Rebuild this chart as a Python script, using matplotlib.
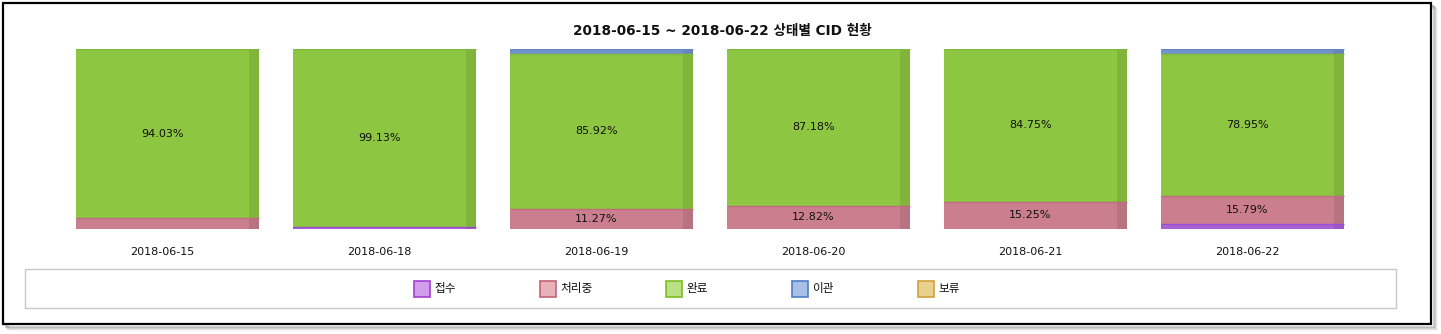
import matplotlib
matplotlib.use("Agg")
import matplotlib.pyplot as plt
from matplotlib.patches import Rectangle
import numpy as np

plt.rcParams['font.family'] = ['DejaVu Sans', 'Noto Sans CJK KR']

# Daily CID share by status (percent of that day's total)
dates = ["2018-06-15", "2018-06-18", "2018-06-19", "2018-06-20", "2018-06-21", "2018-06-22"]
status_names = ["접수", "처리중", "완료", "이관", "보류"]
received = [0.0, 0.87, 0.0, 0.0, 0.0, 2.63]
in_progress = [5.97, 0.0, 11.27, 12.82, 15.25, 15.79]
completed = [94.03, 99.13, 85.92, 87.18, 84.75, 78.95]
transferred = [0.0, 0.0, 2.81, 0.0, 0.0, 2.63]
on_hold = [0.0, 0.0, 0.0, 0.0, 0.0, 0.0]

series = [received, in_progress, completed, transferred, on_hold]
bar_colors = ["#A862D8", "#CB7F8E", "#8DC641", "#7394C9", "#E2B64E"]
edge_colors = ["#9A50CC", "#C06B7E", "#7FB83A", "#6485BE", "#D0A23A"]
legend_face = ["#D29DEA", "#E8B0B9", "#B9E083", "#A8BFE6", "#E9D08E"]
legend_edge = ["#A43FD3", "#C46275", "#7DBE22", "#4F7FC6", "#D0A23A"]

W, H = 1441, 334
fig = plt.figure(figsize=(W / 100, H / 100), dpi=100)

# decoration layer in pixel coordinates
deco = fig.add_axes([0, 0, 1, 1], zorder=0)
deco.set_xlim(0, W)
deco.set_ylim(H, 0)
deco.axis("off")

# drop shadow of the outer panel
for k, a in enumerate([0.30, 0.20, 0.12, 0.06]):
    off = k + 1
    deco.add_patch(Rectangle((3 + off + 1.5, 3 + off + 1.5), 1428, 321,
                             facecolor="none", edgecolor=(0.3, 0.3, 0.3, a), lw=1.2))
deco.add_patch(Rectangle((3, 3), 1428, 321, facecolor="white", edgecolor="black", lw=1.6))

# legend frame
deco.add_patch(Rectangle((25, 269), 1371, 39, facecolor="white", edgecolor="#C8C8C8", lw=1.0))
leg_x0, leg_step = 414, 126
for k, name in enumerate(status_names):
    xl = leg_x0 + k * leg_step
    deco.add_patch(Rectangle((xl, 280.5), 16, 16, facecolor=legend_face[k],
                             edgecolor=legend_edge[k], lw=1.2))
    deco.text(xl + 20, 288.5, name, fontsize=8.4, va="center", ha="left", color="#111111")

deco.text(722, 31, "2018-06-15 ~ 2018-06-22 상태별 CID 현황", fontsize=9.8,
          fontweight="bold", ha="center", va="center", color="#111111")

# main chart area
bottom_px, top_px = 229, 49
ax = fig.add_axes([0, (H - bottom_px) / H, 1, (bottom_px - top_px) / H], zorder=1)
ax.patch.set_alpha(0)
step = 217.0
ax.set_xlim(-162.5 / step, (W - 162.5) / step)
ax.set_ylim(0, 100)
for s in ax.spines.values():
    s.set_visible(False)
ax.set_yticks([])

x = np.arange(len(dates))
main_w = 173 / step
depth_w = 10 / step
base = np.zeros(len(dates))
for k, vals in enumerate(series):
    v = np.array(vals)
    ax.bar(x, v, width=main_w, bottom=base, color=bar_colors[k], linewidth=0)
    # darker side face giving the bars depth
    ax.bar(x + main_w / 2 + depth_w / 2, v, width=depth_w, bottom=base,
           color=bar_colors[k], linewidth=0)
    ax.bar(x + main_w / 2 + depth_w / 2, v, width=depth_w, bottom=base,
           color="black", alpha=0.09, linewidth=0)
    # thin outline along the top of each segment
    tops = np.where(v > 0, base + v, np.nan)
    ax.hlines(tops, x - main_w / 2, x + main_w / 2 + depth_w,
              colors=edge_colors[k], linewidth=1.0)
    for i in range(len(dates)):
        if v[i] >= 10:
            ax.text(x[i], base[i] + v[i] / 2, f"{v[i]:.2f}%", ha="center", va="center",
                    fontsize=8, color="#111111")
    base = base + v

ax.set_xticks(x)
ax.set_xticklabels(dates, fontsize=8, color="#111111")
ax.tick_params(axis="x", length=0, pad=13)

fig.savefig("out.png", dpi=100)
